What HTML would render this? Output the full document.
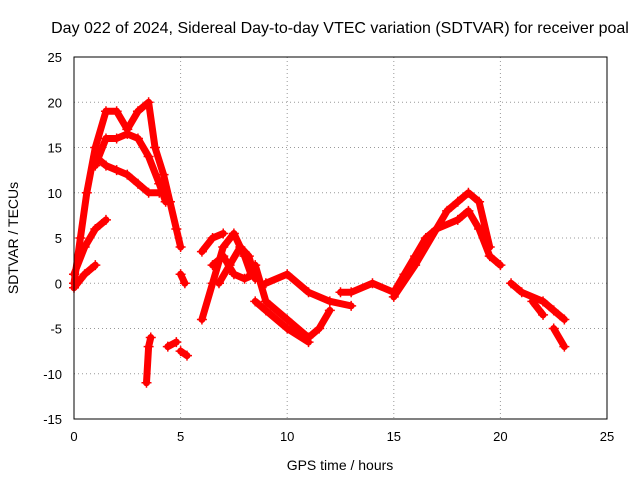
<!DOCTYPE html>
<html><head><meta charset="utf-8"><style>
body{margin:0;background:#fff;}
svg text{font-family:"Liberation Sans",sans-serif;fill:#000;}
</style></head><body>
<svg id="chart" width="640" height="480" xmlns="http://www.w3.org/2000/svg">
<text x="340" y="33" font-size="16" text-anchor="middle">Day 022 of 2024, Sidereal Day-to-day VTEC variation (SDTVAR) for receiver poal</text>
<text x="340" y="470" font-size="14" text-anchor="middle">GPS time / hours</text>
<text x="18" y="238" font-size="14" text-anchor="middle" transform="rotate(-90 18 238)">SDTVAR / TECUs</text>
<g id="grid"></g>
<g id="marks"></g>
<rect x="74" y="57" width="533" height="362" fill="none" stroke="#000" stroke-width="1"/>
</svg>
<script>
const xTicks=[0,5,10,15,20,25];
const yTicks=[-15,-10,-5,0,5,10,15,20,25];
const tracks=[
[[0,0],[0.3,5],[0.6,10],[1,15],[1.5,19],[2,19],[2.5,17],[3,19],[3.5,20],[3.8,15],[4.2,12],[4.5,9],[4.8,6],[5,4]],
[[1,13],[1.5,16],[2,16],[2.5,16.5],[3,16],[3.5,14],[4,11],[4.3,9]],
[[1,14],[1.5,13],[2,12.5],[2.5,12],[3,11],[3.5,10],[4,10]],
[[0,1],[0.5,4],[1,6],[1.5,7]],
[[0,-0.5],[0.5,1],[1,2]],
[[3.4,-11],[3.5,-7],[3.6,-6]],
[[4.4,-7],[4.8,-6.5]],
[[5,-7.5],[5.3,-8]],
[[5,1],[5.2,0]],
[[6,-4],[6.5,0],[7,4],[7.5,5.5],[8,3],[8.3,1]],
[[6,3.5],[6.5,5],[7,5.5]],
[[6.5,2],[7,3],[7.5,1],[8,0.5],[8.5,1]],
[[6.8,0],[7.3,2],[7.8,4],[8.2,3],[8.5,0.5]],
[[8.5,2],[9,-2],[10,-4],[11,-6],[11.5,-5],[12,-3]],
[[8.5,-2],[9,-3],[10,-5],[11,-6.5]],
[[9,0],[10,1],[11,-1],[12,-2],[13,-2.5]],
[[12.5,-1],[13,-1],[14,0],[15,-1],[15.5,1],[16,3],[16.5,5],[17,6],[18,7],[18.5,8],[19,6],[19.5,3],[20,2]],
[[15,-1.5],[16,2],[17,6],[17.5,8],[18,9],[18.5,10],[19,9],[19.5,4]],
[[20.5,0],[21,-1],[22,-2],[22.5,-3],[23,-4]],
[[21.5,-2],[22,-3.5]],
[[22.5,-5],[23,-7]]
];
const X=h=>74+h*533/25, Y=v=>57+(25-v)*362/40;
const NS='http://www.w3.org/2000/svg';
const svg=document.getElementById('chart'),grid=document.getElementById('grid'),marks=document.getElementById('marks');
function mk(t,a,p){const e=document.createElementNS(NS,t);for(const k in a)e.setAttribute(k,a[k]);p.appendChild(e);return e;}
xTicks.forEach(t=>{
 const l=mk('line',{x1:X(t),x2:X(t),y1:57,y2:419,stroke:'#999','stroke-dasharray':'1,3'},grid);
 
 
 const s=mk('text',{x:X(t),y:441,'font-size':13,'text-anchor':'middle'},svg);
 s.textContent=t;
 
 
});
yTicks.forEach(t=>{
 const l=mk('line',{x1:74,x2:607,y1:Y(t),y2:Y(t),stroke:'#999','stroke-dasharray':'1,3'},grid);
 
 
 const s=mk('text',{x:62,y:Y(t)+5,'font-size':13,'text-anchor':'end'},svg);
 s.textContent=t;
 
 
});
tracks.forEach(tr=>{
 const p=mk('polyline',{points:tr.map(d=>X(d[0])+','+Y(d[1])).join(' '),fill:'none',stroke:'#f00','stroke-width':7,'stroke-linejoin':'round','stroke-linecap':'round'},marks);
 
 
 tr.forEach(d=>{
  const m=mk('path',{d:`M${X(d[0])-5},${Y(d[1])}h10M${X(d[0])},${Y(d[1])-5}v10`,stroke:'#f00','stroke-width':1.5},marks);
  
  
 });
});
</script>
</body></html>
